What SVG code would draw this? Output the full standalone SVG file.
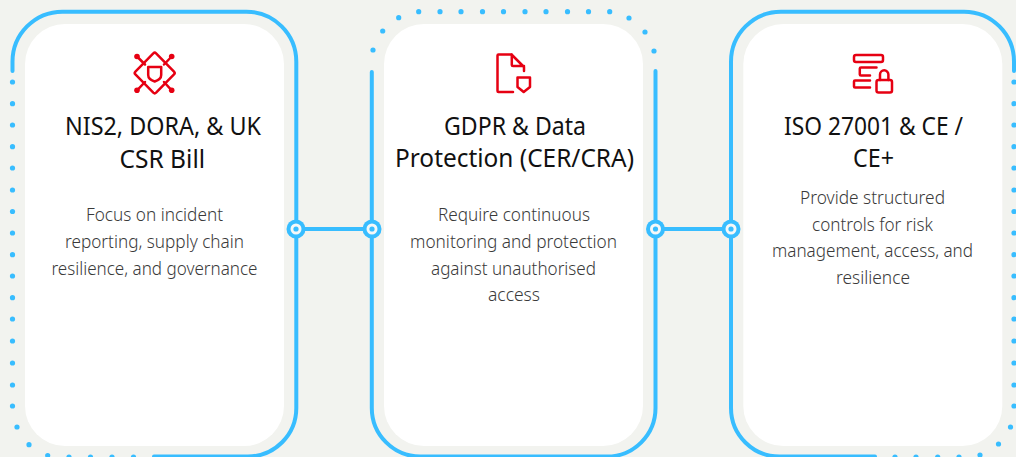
<svg xmlns="http://www.w3.org/2000/svg" width="1016" height="457" viewBox="0 0 1016 457">
<style>
.card{fill:#fff}
.line{fill:none;stroke:#38bdff;stroke-width:4;stroke-linecap:round}
.dot{fill:#38bdff}
.ic{fill:none;stroke:#e60012;stroke-width:2.500;stroke-linejoin:round;stroke-linecap:round}
.icf{fill:#e60012}
.t{font-family:"Noto Sans",sans-serif;font-size:25px;fill:#111;text-anchor:middle}
.b{font-family:"Noto Sans",sans-serif;font-weight:300;font-size:18.500px;fill:#3a3a3a;text-anchor:middle}
.ring{fill:#f5f8f8}
</style>
<defs>
<g id="port"><circle r="9.5" class="dot"/><circle r="5.5" class="ring"/><circle r="2.6" class="dot"/></g>
<circle id="d" r="2.6" class="dot"/>
</defs>
<rect width="1016" height="457" fill="#f2f3ef"/>
<g id="connectors">
<path class="line" d="M12.5 71V62A50 50 0 0 1 62.500 11.700H246A50 50 0 0 1 296.300 62V408A48.500 48.500 0 0 1 248 456.500H154"/>
<path class="line" d="M371.800 72V408A48.500 48.500 0 0 0 420 456.500H607A48.500 48.500 0 0 0 655.500 408V71"/>
<path class="line" d="M1014 71V62A50 50 0 0 0 964 11.700H781A50 50 0 0 0 731 62V408A48.500 48.500 0 0 0 780 456.500H875"/>
<path class="line" d="M296 229H372M655 229H731"/>
<use href="#port" x="296" y="229"/><use href="#port" x="372" y="229"/><use href="#port" x="655.500" y="229"/><use href="#port" x="731" y="229"/>
<g id="dots1">
<use href="#d" x="12.500" y="82"/><use href="#d" x="12.500" y="103.700"/><use href="#d" x="12.500" y="125"/><use href="#d" x="12.500" y="146.700"/><use href="#d" x="12.500" y="168"/><use href="#d" x="12.500" y="190"/><use href="#d" x="12.500" y="211.500"/><use href="#d" x="12.500" y="233"/><use href="#d" x="12.500" y="254.700"/><use href="#d" x="12.500" y="276"/><use href="#d" x="12.500" y="297.700"/><use href="#d" x="12.500" y="319"/><use href="#d" x="12.500" y="341"/><use href="#d" x="12.500" y="363"/><use href="#d" x="12.500" y="385"/><use href="#d" x="12.500" y="406"/><use href="#d" x="17" y="427"/><use href="#d" x="29" y="444.700"/><use href="#d" x="47.700" y="455.500"/><use href="#d" x="69" y="457"/><use href="#d" x="90.500" y="457"/><use href="#d" x="112" y="457"/><use href="#d" x="133.500" y="457"/>
</g>
<g id="dots2">
<use href="#d" x="373" y="50"/><use href="#d" x="382.700" y="31"/><use href="#d" x="398.700" y="17.700"/><use href="#d" x="418.700" y="11.700"/><use href="#d" x="440" y="11.700"/><use href="#d" x="461" y="11.700"/><use href="#d" x="482.500" y="11.700"/><use href="#d" x="503.500" y="11.700"/><use href="#d" x="525" y="11.700"/><use href="#d" x="546" y="11.700"/><use href="#d" x="567.500" y="11.700"/><use href="#d" x="588.500" y="11.700"/><use href="#d" x="609.700" y="11.700"/><use href="#d" x="629" y="18"/><use href="#d" x="645" y="32"/><use href="#d" x="654" y="51"/>
</g>
<g id="dots3">
<use href="#d" x="1014" y="82"/><use href="#d" x="1014" y="103.700"/><use href="#d" x="1014" y="125"/><use href="#d" x="1014" y="146.700"/><use href="#d" x="1014" y="168"/><use href="#d" x="1014" y="190"/><use href="#d" x="1014" y="211.500"/><use href="#d" x="1014" y="233"/><use href="#d" x="1014" y="254.700"/><use href="#d" x="1014" y="276"/><use href="#d" x="1014" y="297.700"/><use href="#d" x="1014" y="319"/><use href="#d" x="1014" y="341"/><use href="#d" x="1014" y="363"/><use href="#d" x="1014" y="385"/><use href="#d" x="1014" y="406"/><use href="#d" x="1010.500" y="427"/><use href="#d" x="998.500" y="444"/><use href="#d" x="980" y="455"/><use href="#d" x="959" y="457"/><use href="#d" x="937.700" y="457"/><use href="#d" x="916" y="457"/><use href="#d" x="895" y="457"/>
</g>
</g>
<g id="node1">
<rect class="card" x="25" y="24" width="259" height="422" rx="40"/>
<path class="ic" d="M153.300 53.300Q154.700 52 156.100 53.300L174 71.600Q175.400 73 174 74.400L156.100 92.700Q154.700 94 153.300 92.700L135.400 74.400Q134 73 135.400 71.600Z"/>
<path class="ic" d="M137 56.500L145 64.500M171.700 56.500L164 64.500M137 90.300L145 82M171.700 90.300L164 82"/>
<circle class="icf" cx="137" cy="56.500" r="2.800"/><circle class="icf" cx="171.700" cy="56.500" r="2.800"/><circle class="icf" cx="137" cy="90.300" r="2.800"/><circle class="icf" cx="171.700" cy="90.300" r="2.800"/>
<path class="ic" d="M148.200 67H161.200V75Q161.200 79.500 154.700 81.500Q148.200 79.500 148.200 75Z"/>
<text class="t" x="163" y="135" textLength="196" lengthAdjust="spacingAndGlyphs">NIS2, DORA, &amp; UK</text>
<text class="t" x="162.300" y="168" textLength="85.500" lengthAdjust="spacingAndGlyphs">CSR Bill</text>
<text class="b" x="154.500" y="221" textLength="137" lengthAdjust="spacingAndGlyphs">Focus on incident</text>
<text class="b" x="154.500" y="248" textLength="179" lengthAdjust="spacingAndGlyphs">reporting, supply chain</text>
<text class="b" x="154.500" y="275" textLength="206" lengthAdjust="spacingAndGlyphs">resilience, and governance</text>
</g>
<g id="node2">
<rect class="card" x="384" y="24" width="259" height="422" rx="40"/>
<path class="ic" d="M513 92H498.500Q497.500 92 497.500 91V55.500Q497.500 54.500 498.500 54.500H511.500L524 67V71M511.800 54.500V65Q511.800 66 513 66H524"/>
<path class="ic" d="M517.500 77.500H530V87L523.700 92L517.500 87Z"/>
<text class="t" x="515" y="135" textLength="142" lengthAdjust="spacingAndGlyphs">GDPR &amp; Data</text>
<text class="t" x="514.500" y="167" textLength="239" lengthAdjust="spacingAndGlyphs">Protection (CER/CRA)</text>
<text class="b" x="514" y="221" textLength="152" lengthAdjust="spacingAndGlyphs">Require continuous</text>
<text class="b" x="513.500" y="248" textLength="207" lengthAdjust="spacingAndGlyphs">monitoring and protection</text>
<text class="b" x="513.500" y="275" textLength="165" lengthAdjust="spacingAndGlyphs">against unauthorised</text>
<text class="b" x="514" y="301" textLength="52" lengthAdjust="spacingAndGlyphs">access</text>
</g>
<g id="node3">
<rect class="card" x="743.300" y="24" width="259" height="422" rx="40"/>
<rect class="ic" x="854" y="55" width="29" height="7" rx="2"/>
<path class="ic" d="M876.500 67.500H861Q859.800 67.500 859.800 68.500V74.500Q859.800 75.500 861 75.500H870M870 80.500H855Q854 80.500 854 81.500V86.500Q854 87.500 855 87.500H870"/>
<rect class="ic" x="876.500" y="80" width="15.500" height="12.500" rx="2"/>
<path class="ic" d="M880 80V74.500A4.200 4.200 0 0 1 888.400 74.500V80"/>
<text class="t" x="873.500" y="135" textLength="179" lengthAdjust="spacingAndGlyphs">ISO 27001 &amp; CE /</text>
<text class="t" x="873.500" y="167" textLength="41" lengthAdjust="spacingAndGlyphs">CE+</text>
<text class="b" x="872.500" y="204" textLength="145" lengthAdjust="spacingAndGlyphs">Provide structured</text>
<text class="b" x="872.500" y="231" textLength="121" lengthAdjust="spacingAndGlyphs">controls for risk</text>
<text class="b" x="872.500" y="257" textLength="201" lengthAdjust="spacingAndGlyphs">management, access, and</text>
<text class="b" x="873" y="283.500" textLength="74" lengthAdjust="spacingAndGlyphs">resilience</text>
</g>
</svg>
